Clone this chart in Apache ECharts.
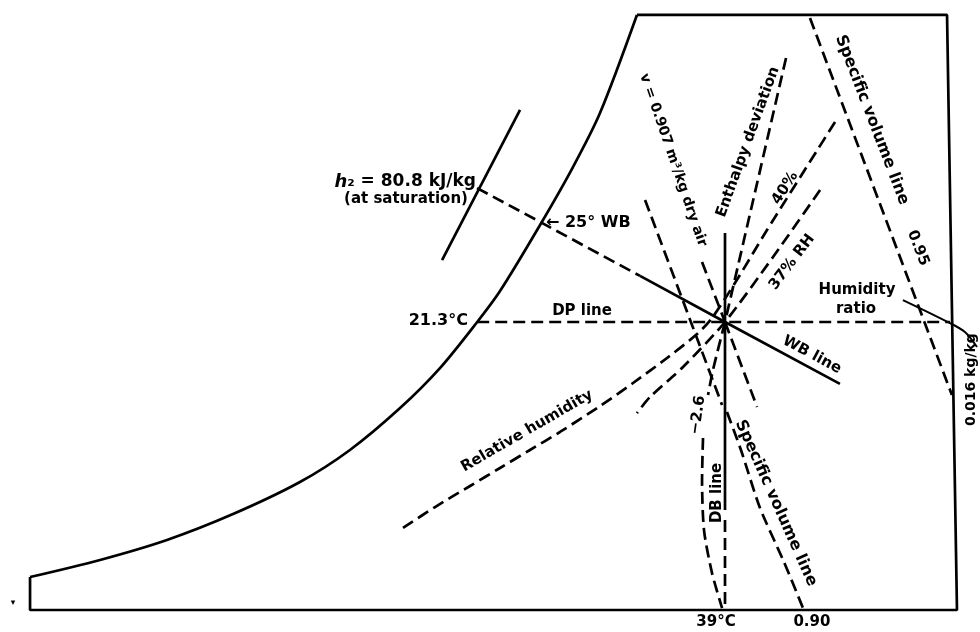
<!DOCTYPE html>
<html><head><meta charset="utf-8">
<script src="https://cdn.jsdelivr.net/npm/echarts@6/dist/echarts.min.js"></script>
<style>html,body{margin:0;padding:0;background:#fff}#c{width:980px;height:632px}</style>
</head><body><div id="c"></div>
<script>
// x: dry-bulb temperature (°C), y: humidity ratio (g/kg dry air)
const saturationCurve = [[-10.64,1.83],[-5.64,2.78],[-0.86,3.89],[3.86,5.33],[8.64,7.11],[12.21,8.89],[15.79,11.22],[18.64,13.44],[21.3,16.0],[22.93,17.72],[25.79,21.39],[28.14,24.61],[30.07,27.61],[32.71,33.06]];
const chartFrame = [[32.71,33.06],[54.86,33.06],[55.57,0],[-10.64,0],[-10.64,1.83]];
const dewPointLine = [[21.3,16],[39,16],[55.07,16]];
const wetBulbDashed = [[21.29,23.44],[25.79,21.56],[32.93,18.56]];
const wetBulbSolid = [[32.93,18.56],[39,16],[47.21,12.56]];
const enthalpyLine = [[18.79,19.44],[24.36,27.78]];
const humidityRatioLeader = [[51.71,17.22],[55.07,15.94],[56.14,15.44],[57.0,14.61]];
const volume095 = [[45.07,32.89],[55.21,11.94]];
const volume0907 = [[37.36,19.33],[39,16]];
const volume090 = [[39,16],[41.29,11.28]];
const volume090Leader = [[39.14,11.0],[40.14,8.89],[41.5,5.67],[43.21,2.67],[44.57,0.11]];
const auxLine = [[33.29,22.78],[38.79,11.39]];
const deviationUpper = [[39,16],[38.14,13.33],[37.79,11.94]];
const deviationLower = [[37.43,9.56],[37.36,7.22],[37.5,4.44],[38.07,2.06],[38.79,0.11]];
const dryBulbSolid = [[39,20.94],[39,5.56]];
const dryBulbDashed = [[39,5.0],[39,0]];
const enthalpyDeviation = [[43.36,30.67],[39,16]];
const rh40 = [[46.86,27.11],[42.0,21.11],[39.93,18.44],[38.07,16.22],[37.0,15.33],[34.86,14.0],[32.43,12.61],[30.07,11.33],[27.21,9.89],[25.07,8.89],[22.93,7.89],[20.79,6.89],[18.29,5.72],[16.0,4.56]];
const rh37 = [[45.79,23.33],[42.43,19.61],[39,16],[36.0,13.5],[33.64,11.83],[32.71,10.94]];

// labels: text, T, W, rotation (deg), align, font size
const labels = [
  ['(at saturation)', 20.64, 22.83, 0, 'right', 15],
  ['21.3°C', 20.64, 16.06, 0, 'right', 16],
  ['DP line', 28.79, 16.61, 0, 'center', 15],
  ['← 25° WB', 26.21, 21.5, 0, 'left', 16],
  ['Humidity', 48.43, 17.78, 0, 'center', 15],
  ['ratio', 48.36, 16.72, 0, 'center', 15],
  ['0.016 kg/kg', 56.57, 12.8, 90, 'center', 14],
  ['WB line', 45.21, 14.17, -28, 'center', 15],
  ['Specific volume line', 49.5, 27.22, -69, 'center', 16],
  ['0.95', 52.79, 20.11, -69, 'center', 15],
  ['Enthalpy deviation', 40.64, 26.0, 70, 'center', 15],
  ['40%', 43.29, 23.44, 58, 'center', 15],
  ['37% RH', 43.79, 19.33, 53, 'center', 15],
  ['v = 0.907 m³/kg dry air', 35.29, 25.0, -71, 'center', 14],
  ['Relative humidity', 24.86, 9.94, 30, 'center', 15],
  ['−2.6', 37.07, 10.83, 82, 'center', 15],
  ['DB line', 38.43, 6.5, 90, 'center', 15],
  ['Specific volume line', 42.64, 5.94, -66, 'center', 16],
  ['39°C', 38.36, -0.67, 0, 'center', 15],
  ['0.90', 45.21, -0.67, 0, 'center', 15],
  ['▾', -11.86, 0.39, 0, 'center', 9]
];
const enthalpyLabel = ['h', '₂ = 80.8 kJ/kg', 21.21, 23.78];

const FONT = 'DejaVu Sans';
function lineSeries(data, dashed, width, smooth) {
  return {
    type: 'line', data: data, showSymbol: false, symbol: 'none', smooth: smooth || false,
    silent: true, animation: false,
    lineStyle: { color: '#000', width: width || 2.7, type: dashed ? [12, 6] : 'solid', cap: 'butt' }
  };
}
const labelData = labels.map(l => ({
  value: [l[1], l[2]],
  label: {
    show: true, position: 'inside', formatter: l[0], rotate: l[3], align: l[4], verticalAlign: 'middle',
    fontFamily: FONT, fontWeight: 'bold', fontSize: l[5], color: '#000'
  }
}));
labelData.push({
  value: [enthalpyLabel[2], enthalpyLabel[3]],
  label: {
    show: true, position: 'inside', align: 'right', verticalAlign: 'middle',
    formatter: '{i|' + enthalpyLabel[0] + '}{n|' + enthalpyLabel[1] + '}',
    rich: {
      i: { fontFamily: FONT, fontWeight: 'bold', fontStyle: 'italic', fontSize: 18, color: '#000' },
      n: { fontFamily: FONT, fontWeight: 'bold', fontSize: 17, color: '#000' }
    }
  }
});

const chart = echarts.init(document.getElementById('c'), null, { renderer: 'canvas' });
chart.setOption({
  backgroundColor: '#fff',
  animation: false,
  grid: { left: 0, right: 0, top: 0, bottom: 0, containLabel: false },
  xAxis: { type: 'value', min: -179 / 14, max: 801 / 14, show: false },
  yAxis: { type: 'value', min: -22 / 18, max: 610 / 18, show: false },
  series: [
    lineSeries(saturationCurve, false, 2.7, 0.3),
    lineSeries(chartFrame, false, 2.7),
    lineSeries(dewPointLine, true),
    lineSeries(wetBulbDashed, true),
    lineSeries(wetBulbSolid, false),
    lineSeries(enthalpyLine, false),
    lineSeries(humidityRatioLeader, false, 2, 0.3),
    lineSeries(volume095, true),
    lineSeries(volume0907, true),
    lineSeries(volume090, true),
    lineSeries(volume090Leader, true, 2.7, 0.25),
    lineSeries(auxLine, true),
    lineSeries(deviationUpper, true, 2.7, 0.25),
    lineSeries(deviationLower, true, 2.7, 0.25),
    lineSeries(dryBulbSolid, false),
    lineSeries(dryBulbDashed, true),
    lineSeries(enthalpyDeviation, true),
    lineSeries(rh40, true, 2.7, 0.3),
    lineSeries(rh37, true, 2.7, 0.25),
    {
      type: 'scatter', data: labelData, symbolSize: 0, silent: true, animation: false, z: 10,
      itemStyle: { opacity: 1 }
    }
  ]
});
</script></body></html>
